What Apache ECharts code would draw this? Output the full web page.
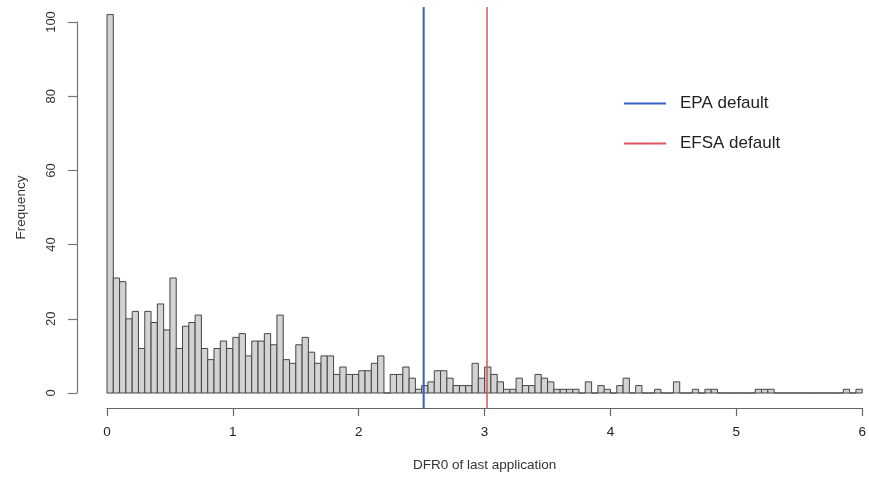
<!DOCTYPE html>
<html>
<head>
<meta charset="utf-8">
<script src="https://cdn.jsdelivr.net/npm/echarts@6/dist/echarts.min.js"></script>
<style>
  html, body { margin: 0; padding: 0; background: #fff; }
  #chart { width: 869px; height: 477px; }
</style>
</head>
<body>
<div id="chart"></div>
<script>
// histogram counts, one per 0.05 wide bin from 0 to 6
var binWidth = 0.05;
var counts = [
    102, 31, 30, 20, 22, 12, 22, 19, 24, 17,
    31, 12, 18, 19, 21, 12, 9, 12, 14, 12,
    15, 16, 10, 14, 14, 16, 13, 21, 9, 8,
    13, 15, 11, 8, 10, 10, 5, 7, 5, 5,
    6, 6, 8, 10, 0, 5, 5, 7, 4, 1,
    2, 3, 6, 6, 4, 2, 2, 2, 8, 4,
    7, 5, 3, 1, 1, 4, 2, 2, 5, 4,
    3, 1, 1, 1, 1, 0, 3, 0, 2, 1,
    0, 2, 4, 0, 2, 0, 0, 1, 0, 0,
    3, 0, 0, 1, 0, 1, 1, 0, 0, 0,
    0, 0, 0, 1, 1, 1, 0, 0, 0, 0,
    0, 0, 0, 0, 0, 0, 0, 1, 0, 1
];
var xTicks = [0, 1, 2, 3, 4, 5, 6];
var yTicks = [0, 20, 40, 60, 80, 100];
var refNames = ['EPA default', 'EFSA default'];
var refValues = [2.5, 3];
var refColors = ['#3560c8', '#d9525e'];

var chart = echarts.init(document.getElementById('chart'));

var histData = counts.map(function (c, i) {
    return [i * binWidth, (i + 1) * binWidth, c];
});

var fontFam = 'Liberation Sans, Arial, sans-serif';

var option = {
    animation: false,
    backgroundColor: '#fff',
    grid: [
        {left: 107, right: 2, top: 22, bottom: 83},
        {left: 107, right: 2, top: 7, bottom: 68}  // plot region for reference lines
    ],
    xAxis: [
        {
            type: 'value', gridIndex: 0,
            min: xTicks[0], max: xTicks[xTicks.length - 1], interval: 1,
            offset: 15,
            name: 'DFR0 of last application',
            nameLocation: 'middle', nameGap: 50,
            nameTextStyle: {fontFamily: fontFam, fontSize: 13.5, color: '#333'},
            axisLine: {show: true, onZero: false, lineStyle: {color: '#666', width: 1.2}},
            axisTick: {show: true, length: 8, lineStyle: {color: '#666', width: 1.2}},
            axisLabel: {margin: 17, fontFamily: fontFam, fontSize: 13.5, color: '#222'},
            splitLine: {show: false}
        },
        {
            type: 'value', gridIndex: 1,
            min: xTicks[0], max: xTicks[xTicks.length - 1], show: false
        }
    ],
    yAxis: [
        {
            type: 'value', gridIndex: 0,
            min: yTicks[0], max: yTicks[yTicks.length - 1], interval: 20,
            position: 'left',
            offset: 30,
            name: 'Frequency',
            nameLocation: 'middle', nameGap: 49, nameRotate: 90,
            nameTextStyle: {fontFamily: fontFam, fontSize: 13.5, color: '#333'},
            axisLine: {show: true, onZero: false, lineStyle: {color: '#777', width: 1.2}},
            axisTick: {show: true, length: 9, lineStyle: {color: '#777', width: 1.2}},
            axisLabel: {rotate: 90, margin: 19, fontFamily: fontFam, fontSize: 13, color: '#333'},
            splitLine: {show: false}
        },
        {type: 'value', gridIndex: 1, min: 0, max: 1, show: false}
    ],
    legend: {
        orient: 'vertical',
        left: 619, top: 90,
        itemWidth: 42, itemHeight: 2,
        itemGap: 23,
        icon: 'rect',
        data: refNames,
        textStyle: {fontFamily: fontFam, fontSize: 17, color: '#222', padding: [0, 0, 0, 9]}
    },
    series: [
        {
            type: 'custom',
            xAxisIndex: 0, yAxisIndex: 0,
            clip: false,
            data: histData,
            encode: {x: [0, 1], y: 2},
            renderItem: function (params, api) {
                var topLeft = api.coord([api.value(0), api.value(2)]);
                var botRight = api.coord([api.value(1), 0]);
                return {
                    type: 'rect',
                    shape: {
                        x: topLeft[0], y: topLeft[1],
                        width: botRight[0] - topLeft[0],
                        height: botRight[1] - topLeft[1]
                    },
                    style: {fill: '#d3d3d3', stroke: '#454545', lineWidth: 1}
                };
            }
        }
    ].concat(refNames.map(function (name, k) {
        return {
            name: name,
            type: 'line',
            xAxisIndex: 1, yAxisIndex: 1,
            symbol: 'none',
            color: refColors[k],
            lineStyle: {color: refColors[k], width: k == 0 ? 2 : 1.5},
            data: [[refValues[k], 0], [refValues[k], 1]]
        };
    }))
};

chart.setOption(option);
</script>
</body>
</html>
